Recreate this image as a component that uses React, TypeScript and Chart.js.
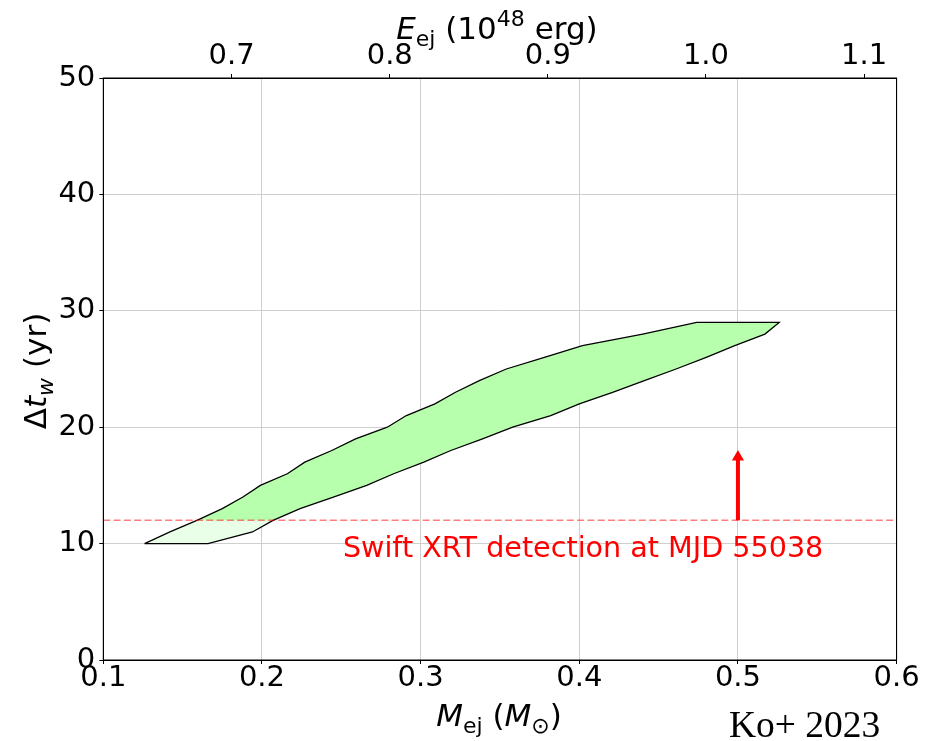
import React, { useEffect, useRef } from "react";
import { Chart, registerables } from "chart.js";

Chart.register(...registerables);

// ---- data ----
// Allowed window: for each wind delay (yr), the min and max ejecta mass (Msun)
const DT_YR = [10, 11, 12, 13, 14, 15, 16, 17, 18, 19, 20, 21, 22, 23, 24, 25, 26, 27, 28, 29];
const M_LOW = [0.126, 0.142, 0.159, 0.175, 0.188, 0.199, 0.216, 0.227, 0.244, 0.259, 0.279, 0.291, 0.309, 0.322, 0.337, 0.354, 0.378, 0.402, 0.44, 0.474];
const M_HIGH = [0.166, 0.194, 0.207, 0.224, 0.245, 0.266, 0.283, 0.302, 0.319, 0.339, 0.358, 0.382, 0.4, 0.421, 0.441, 0.461, 0.48, 0.498, 0.517, 0.526];

const DETECTION_DT = 12; // Swift XRT detection limit (yr)
const ARROW_M = 0.5;
const ARROW_SHAFT = [12, 17.2];
const ARROW_HEAD_DT = 17.45;

const M_TICKS = [0.1, 0.2, 0.3, 0.4, 0.5, 0.6];
const DT_TICKS = [0, 10, 20, 30, 40, 50];
const E_TICKS = [0.7, 0.8, 0.9, 1.0, 1.1];
const M_RANGE = [0.1, 0.6];
const DT_RANGE = [0, 50];
const E_RANGE = [0.6188, 1.1206];

const ANNOT_TEXT = "Swift XRT detection at MJD 55038";
const ANNOT_POS = { m: 0.251, dt: 8.85 };
const CREDIT = "Ko+ 2023";

const FONT = '"DejaVu Sans"';

function polygon(fromDt: number) {
  const start = DT_YR.indexOf(fromDt);
  const pts: { x: number; y: number }[] = [];
  for (let i = start; i < DT_YR.length; i++) pts.push({ x: M_LOW[i], y: DT_YR[i] });
  for (let i = DT_YR.length - 1; i >= start; i--) pts.push({ x: M_HIGH[i], y: DT_YR[i] });
  pts.push({ ...pts[0] });
  return pts;
}

type Seg = { t: string; size: number; italic?: boolean; dy?: number };

function fontOf(s: Seg) {
  return `${s.italic ? "italic " : ""}${s.size}px ${FONT}`;
}

function drawRich(
  ctx: CanvasRenderingContext2D,
  segs: Seg[],
  x: number,
  y: number,
  rotate = false
) {
  ctx.save();
  ctx.translate(x, y);
  if (rotate) ctx.rotate(-Math.PI / 2);
  ctx.textBaseline = "alphabetic";
  ctx.textAlign = "left";
  let total = 0;
  for (const s of segs) {
    ctx.font = fontOf(s);
    total += ctx.measureText(s.t).width;
  }
  let cx = -total / 2;
  ctx.fillStyle = "#000";
  for (const s of segs) {
    ctx.font = fontOf(s);
    ctx.fillText(s.t, cx, s.dy || 0);
    cx += ctx.measureText(s.t).width;
  }
  ctx.restore();
}

const textPlugin = {
  id: "textPlugin",
  afterDraw(chart: any) {
    const ctx: CanvasRenderingContext2D = chart.ctx;
    const { x, y } = chart.scales;
    const area = chart.chartArea;
    const F = 31;
    const S = 22;
    const midX = (area.left + area.right) / 2;
    // top title
    drawRich(
      ctx,
      [
        { t: "E", size: F, italic: true },
        { t: "ej", size: S, dy: 7 },
        { t: " (10", size: F },
        { t: "48", size: S, dy: -13 },
        { t: " erg)", size: F },
      ],
      midX - 3,
      39
    );
    // bottom title
    drawRich(
      ctx,
      [
        { t: "M", size: F, italic: true },
        { t: "ej", size: S, dy: 7 },
        { t: " (", size: F },
        { t: "M", size: F, italic: true },
        { t: "\u2299", size: S, dy: 7 },
        { t: ")", size: F },
      ],
      midX - 1,
      726
    );
    // y title
    drawRich(
      ctx,
      [
        { t: "\u0394", size: F },
        { t: "t", size: F, italic: true },
        { t: "w", size: S, italic: true, dy: 7 },
        { t: " (yr)", size: F },
      ],
      46,
      (area.top + area.bottom) / 2 + 2,
      true
    );
    // annotation
    ctx.save();
    ctx.fillStyle = "#ff0000";
    ctx.font = `28.6px ${FONT}`;
    ctx.textAlign = "left";
    ctx.textBaseline = "alphabetic";
    ctx.fillText(ANNOT_TEXT, x.getPixelForValue(ANNOT_POS.m), y.getPixelForValue(ANNOT_POS.dt));
    ctx.restore();
    // credit
    ctx.save();
    ctx.fillStyle = "#000";
    ctx.font = `37.5px "Liberation Serif"`;
    ctx.textAlign = "left";
    ctx.textBaseline = "alphabetic";
    ctx.fillText(CREDIT, 729, 737);
    ctx.restore();
  },
};

const framePlugin = {
  id: "framePlugin",
  afterDatasetsDraw(chart: any) {
    const ctx: CanvasRenderingContext2D = chart.ctx;
    const a = chart.chartArea;
    ctx.save();
    ctx.strokeStyle = "#000";
    ctx.lineWidth = 1;
    ctx.strokeRect(a.left, a.top, a.right - a.left, a.bottom - a.top);
    ctx.restore();
  },
};

export default function App() {
  const ref = useRef<HTMLCanvasElement | null>(null);

  useEffect(() => {
    if (!ref.current) return;
    const tickFont = { family: FONT, size: 29, lineHeight: 1 };
    const chart = new Chart(ref.current, {
      type: "line",
      data: {
        datasets: [
          {
            label: "allowed (all)",
            data: polygon(DT_YR[0]),
            fill: "shape",
            backgroundColor: "rgb(234,255,231)",
            borderWidth: 0,
            pointRadius: 0,
            tension: 0,
            order: 5,
          },
          {
            label: "allowed (after detection)",
            data: polygon(DETECTION_DT),
            fill: "shape",
            backgroundColor: "rgb(183,255,172)",
            borderWidth: 0,
            pointRadius: 0,
            tension: 0,
            order: 4,
          },
          {
            label: "outline",
            data: polygon(DT_YR[0]),
            fill: false,
            borderColor: "#000",
            borderWidth: 1.3,
            pointRadius: 0,
            tension: 0,
            order: 3,
          },
          {
            label: "detection",
            data: [
              { x: M_RANGE[0], y: DETECTION_DT },
              { x: M_RANGE[1], y: DETECTION_DT },
            ],
            fill: false,
            borderColor: "rgba(255,0,0,0.5)",
            borderWidth: 1.5,
            borderDash: [7, 3.3],
            pointRadius: 0,
            order: 2,
          },
          {
            label: "arrow",
            data: [
              { x: ARROW_M, y: ARROW_SHAFT[0] },
              { x: ARROW_M, y: ARROW_SHAFT[1] },
            ],
            fill: false,
            borderColor: "#ff0000",
            borderWidth: 4,
            pointRadius: 0,
            order: 1,
          },
          {
            label: "arrowhead",
            data: [{ x: ARROW_M, y: ARROW_HEAD_DT }],
            showLine: false,
            pointStyle: "triangle",
            pointRadius: 7,
            backgroundColor: "#ff0000",
            borderColor: "#ff0000",
            borderWidth: 0,
            order: 0,
          },
        ],
      },
      options: {
        animation: false,
        responsive: false,
        devicePixelRatio: 1,
        layout: { padding: 0 },
        plugins: {
          legend: { display: false },
          tooltip: { enabled: false },
        },
        scales: {
          x: {
            type: "linear",
            position: "bottom",
            min: M_RANGE[0],
            max: M_RANGE[1],
            afterBuildTicks: (a: any) => {
              a.ticks = M_TICKS.map((v) => ({ value: v }));
            },
            afterFit: (s: any) => {
              s.height = 81;
            },
            ticks: {
              font: tickFont,
              color: "#000",
              padding: 0,
              maxRotation: 0,
              autoSkip: false,
              callback: (v: any) => Number(v).toFixed(1),
            },
            grid: { color: "#cfcfcf", lineWidth: 1, tickLength: 4, tickColor: "#000", tickWidth: 1 },
            border: { color: "#000", width: 1 },
          },
          x2: {
            type: "linear",
            position: "top",
            min: E_RANGE[0],
            max: E_RANGE[1],
            afterBuildTicks: (a: any) => {
              a.ticks = E_TICKS.map((v) => ({ value: v }));
            },
            afterFit: (s: any) => {
              s.height = 78;
            },
            ticks: {
              font: tickFont,
              color: "#000",
              padding: 3,
              maxRotation: 0,
              autoSkip: false,
              callback: (v: any) => Number(v).toFixed(1),
            },
            grid: { drawOnChartArea: false, tickLength: 4, color: "#000", tickWidth: 1 },
            border: { color: "#000", width: 1 },
          },
          y: {
            type: "linear",
            position: "left",
            min: DT_RANGE[0],
            max: DT_RANGE[1],
            afterBuildTicks: (a: any) => {
              a.ticks = DT_TICKS.map((v) => ({ value: v }));
            },
            afterFit: (s: any) => {
              s.width = 103.3;
            },
            ticks: {
              font: tickFont,
              color: "#000",
              padding: 4,
              autoSkip: false,
              callback: (v: any) => String(v),
            },
            grid: { color: "#cfcfcf", lineWidth: 1, tickLength: 4, tickColor: "#000", tickWidth: 1 },
            border: { color: "#000", width: 1 },
          },
          y2: {
            type: "linear",
            position: "right",
            min: DT_RANGE[0],
            max: DT_RANGE[1],
            afterFit: (s: any) => {
              s.width = 28.4;
            },
            ticks: { display: false },
            grid: { drawOnChartArea: false, drawTicks: false },
            border: { color: "#000", width: 1 },
          },
        },
      } as any,
      plugins: [framePlugin, textPlugin],
    });
    return () => chart.destroy();
  }, []);

  return (
    <div
      style={{
        position: "fixed",
        left: 0,
        top: 0,
        width: 925,
        height: 741,
        background: "#fff",
      }}
    >
      <canvas ref={ref} width={925} height={741} />
    </div>
  );
}
